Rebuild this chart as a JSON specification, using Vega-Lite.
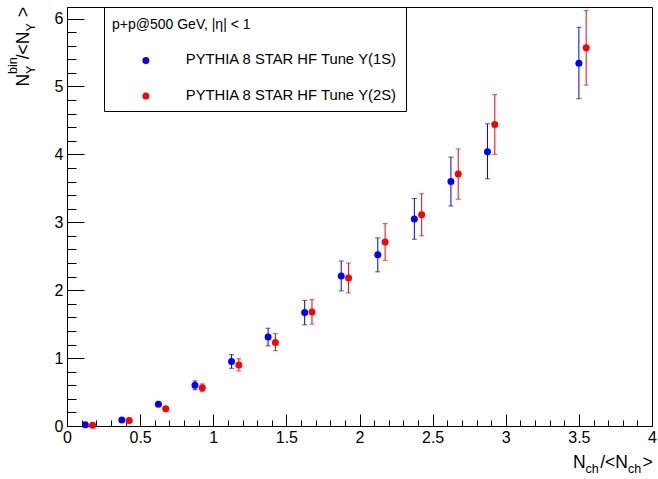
{
  "$schema": "https://vega.github.io/schema/vega-lite/v6.json",
  "autosize": {"type": "none"},
  "width": 585,
  "height": 419,
  "padding": {"left": 67, "top": 7, "right": 6, "bottom": 53},
  "background": "white",
  "config": {
    "view": {"stroke": "black", "strokeWidth": 1},
    "axis": {"grid": false, "domainColor": "black", "labelColor": "black", "titleColor": "black", "labelFont": "Liberation Sans", "titleFont": "Liberation Sans", "titleFontWeight": "normal"}
  },
  "data": {"values": [
    {"x": 0.125, "y": 0.02, "lo": 0.015, "hi": 0.025, "s": "PYTHIA 8 STAR HF Tune Υ(1S)"},
    {"x": 0.375, "y": 0.09, "lo": 0.075, "hi": 0.105, "s": "PYTHIA 8 STAR HF Tune Υ(1S)"},
    {"x": 0.625, "y": 0.32, "lo": 0.29, "hi": 0.35, "s": "PYTHIA 8 STAR HF Tune Υ(1S)"},
    {"x": 0.875, "y": 0.60, "lo": 0.535, "hi": 0.665, "s": "PYTHIA 8 STAR HF Tune Υ(1S)"},
    {"x": 1.125, "y": 0.95, "lo": 0.85, "hi": 1.05, "s": "PYTHIA 8 STAR HF Tune Υ(1S)"},
    {"x": 1.375, "y": 1.31, "lo": 1.18, "hi": 1.44, "s": "PYTHIA 8 STAR HF Tune Υ(1S)"},
    {"x": 1.625, "y": 1.67, "lo": 1.49, "hi": 1.85, "s": "PYTHIA 8 STAR HF Tune Υ(1S)"},
    {"x": 1.875, "y": 2.21, "lo": 1.99, "hi": 2.43, "s": "PYTHIA 8 STAR HF Tune Υ(1S)"},
    {"x": 2.125, "y": 2.52, "lo": 2.27, "hi": 2.77, "s": "PYTHIA 8 STAR HF Tune Υ(1S)"},
    {"x": 2.375, "y": 3.05, "lo": 2.75, "hi": 3.35, "s": "PYTHIA 8 STAR HF Tune Υ(1S)"},
    {"x": 2.625, "y": 3.60, "lo": 3.24, "hi": 3.96, "s": "PYTHIA 8 STAR HF Tune Υ(1S)"},
    {"x": 2.875, "y": 4.04, "lo": 3.64, "hi": 4.45, "s": "PYTHIA 8 STAR HF Tune Υ(1S)"},
    {"x": 3.5, "y": 5.34, "lo": 4.82, "hi": 5.87, "s": "PYTHIA 8 STAR HF Tune Υ(1S)"},
    {"x": 0.175, "y": 0.01, "lo": 0.005, "hi": 0.015, "s": "PYTHIA 8 STAR HF Tune Υ(2S)"},
    {"x": 0.425, "y": 0.08, "lo": 0.065, "hi": 0.095, "s": "PYTHIA 8 STAR HF Tune Υ(2S)"},
    {"x": 0.675, "y": 0.255, "lo": 0.23, "hi": 0.28, "s": "PYTHIA 8 STAR HF Tune Υ(2S)"},
    {"x": 0.925, "y": 0.565, "lo": 0.51, "hi": 0.62, "s": "PYTHIA 8 STAR HF Tune Υ(2S)"},
    {"x": 1.175, "y": 0.90, "lo": 0.81, "hi": 0.99, "s": "PYTHIA 8 STAR HF Tune Υ(2S)"},
    {"x": 1.425, "y": 1.23, "lo": 1.11, "hi": 1.36, "s": "PYTHIA 8 STAR HF Tune Υ(2S)"},
    {"x": 1.675, "y": 1.68, "lo": 1.50, "hi": 1.86, "s": "PYTHIA 8 STAR HF Tune Υ(2S)"},
    {"x": 1.925, "y": 2.18, "lo": 1.96, "hi": 2.40, "s": "PYTHIA 8 STAR HF Tune Υ(2S)"},
    {"x": 2.175, "y": 2.71, "lo": 2.44, "hi": 2.98, "s": "PYTHIA 8 STAR HF Tune Υ(2S)"},
    {"x": 2.425, "y": 3.11, "lo": 2.80, "hi": 3.42, "s": "PYTHIA 8 STAR HF Tune Υ(2S)"},
    {"x": 2.675, "y": 3.71, "lo": 3.34, "hi": 4.08, "s": "PYTHIA 8 STAR HF Tune Υ(2S)"},
    {"x": 2.925, "y": 4.44, "lo": 4.00, "hi": 4.88, "s": "PYTHIA 8 STAR HF Tune Υ(2S)"},
    {"x": 3.55, "y": 5.57, "lo": 5.02, "hi": 6.12, "s": "PYTHIA 8 STAR HF Tune Υ(2S)"}
  ]},
  "resolve": {"axis": {"x": "independent", "y": "independent"}},
  "layer": [
    {
      "mark": {"type": "point", "shape": "circle", "filled": true, "size": 49, "opacity": 1, "strokeWidth": 0},
      "encoding": {
        "x": {"field": "x", "type": "quantitative", "scale": {"domain": [0, 4], "nice": false, "zero": false},
          "axis": {"orient": "bottom", "values": [0, 0.5, 1, 1.5, 2, 2.5, 3, 3.5, 4], "format": "~g", "tickSize": -12, "tickColor": "black", "tickWidth": 1, "labelPadding": 15, "labelFontSize": 16, "labelFlush": false, "labelOverlap": false,
            "title": "N\u00a0\u00a0\u00a0/<N\u00a0\u00a0\u00a0>", "titleFontSize": 17.5, "titleX": 505.5, "titleY": 41.5, "titleAlign": "left", "titleBaseline": "alphabetic"}},
        "y": {"field": "y", "type": "quantitative", "scale": {"domain": [0, 6.17], "nice": false},
          "axis": {"orient": "left", "values": [0, 1, 2, 3, 4, 5, 6], "tickSize": -17, "tickColor": "black", "tickWidth": 1, "labelPadding": 21, "labelFontSize": 16, "labelFlush": false, "labelOverlap": false,
            "title": "N\u00a0\u00a0\u00a0/<N\u00a0\u00a0\u00a0>", "titleFontSize": 17.5, "titleAngle": 270, "titleX": -38.5, "titleY": 79, "titleAlign": "left", "titleBaseline": "alphabetic"}},
        "color": {"field": "s", "type": "nominal", "scale": {"domain": ["PYTHIA 8 STAR HF Tune Υ(1S)", "PYTHIA 8 STAR HF Tune Υ(2S)"], "range": ["#0000ff", "#ff0000"]},
          "legend": {"title": "p+p@500 GeV, |η| < 1", "orient": "none", "legendX": 37, "legendY": 0, "padding": 8, "strokeColor": "black", "fillColor": "white",
            "titleFont": "Liberation Sans", "titleFontSize": 14, "titleFontWeight": "normal", "titleColor": "black", "titleBaseline": "line-top", "titleLineHeight": 20, "titlePadding": 24,
            "labelFont": "Liberation Sans", "labelFontSize": 14.8, "labelColor": "black", "labelOffset": 32.5, "labelLimit": 400,
            "symbolOffset": 26.5, "symbolSize": 49, "symbolType": "circle", "symbolStrokeWidth": 0, "rowPadding": 19.5}}
      }
    },
    {
      "mark": {"type": "rule", "strokeWidth": 1},
      "encoding": {
        "x": {"field": "x", "type": "quantitative",
          "axis": {"orient": "bottom", "values": [0.1, 0.2, 0.3, 0.4, 0.6, 0.7, 0.8, 0.9, 1.1, 1.2, 1.3, 1.4, 1.6, 1.7, 1.8, 1.9, 2.1, 2.2, 2.3, 2.4, 2.6, 2.7, 2.8, 2.9, 3.1, 3.2, 3.3, 3.4, 3.6, 3.7, 3.8, 3.9], "tickSize": -6, "tickColor": "black", "tickWidth": 1, "labels": false, "domain": false,
            "title": "ch", "titleFontSize": 12.5, "titleX": 560.4, "titleY": 46.5, "titleAlign": "left", "titleBaseline": "alphabetic"}},
        "y": {"field": "lo", "type": "quantitative",
          "axis": {"orient": "left", "values": [0.2, 0.4, 0.6, 0.8, 1.2, 1.4, 1.6, 1.8, 2.2, 2.4, 2.6, 2.8, 3.2, 3.4, 3.6, 3.8, 4.2, 4.4, 4.6, 4.8, 5.2, 5.4, 5.6, 5.8], "tickSize": -9, "tickColor": "black", "tickWidth": 1, "labels": false, "domain": false,
            "title": "Υ", "titleFontSize": 12.5, "titleAngle": 270, "titleX": -32.5, "titleY": 66.4, "titleAlign": "left", "titleBaseline": "alphabetic"}},
        "y2": {"field": "hi"},
        "stroke": {"field": "s", "type": "nominal", "scale": {"domain": ["PYTHIA 8 STAR HF Tune Υ(1S)", "PYTHIA 8 STAR HF Tune Υ(2S)"], "range": ["#0000ff", "#ff0000"]}, "legend": null}
      }
    },
    {
      "mark": {"type": "tick", "orient": "horizontal", "size": 5, "thickness": 1},
      "encoding": {
        "x": {"field": "x", "type": "quantitative",
          "axis": {"orient": "bottom", "ticks": false, "labels": false, "domain": false,
            "title": "ch", "titleFontSize": 12.5, "titleX": 518.1, "titleY": 46.5, "titleAlign": "left", "titleBaseline": "alphabetic"}},
        "y": {"field": "lo", "type": "quantitative",
          "axis": {"orient": "left", "ticks": false, "labels": false, "domain": false,
            "title": "Υ", "titleFontSize": 12.5, "titleAngle": 270, "titleX": -32.5, "titleY": 24.1, "titleAlign": "left", "titleBaseline": "alphabetic"}},
        "fill": {"field": "s", "type": "nominal", "scale": {"domain": ["PYTHIA 8 STAR HF Tune Υ(1S)", "PYTHIA 8 STAR HF Tune Υ(2S)"], "range": ["#0000ff", "#ff0000"]}, "legend": null}
      }
    },
    {
      "mark": {"type": "tick", "orient": "horizontal", "size": 5, "thickness": 1},
      "encoding": {
        "x": {"field": "x", "type": "quantitative", "axis": null},
        "y": {"field": "hi", "type": "quantitative",
          "axis": {"orient": "left", "ticks": false, "labels": false, "domain": false,
            "title": "bin", "titleFontSize": 12.5, "titleAngle": 270, "titleX": -51, "titleY": 66.4, "titleAlign": "left", "titleBaseline": "alphabetic"}},
        "fill": {"field": "s", "type": "nominal", "legend": null}
      }
    }
  ]
}
